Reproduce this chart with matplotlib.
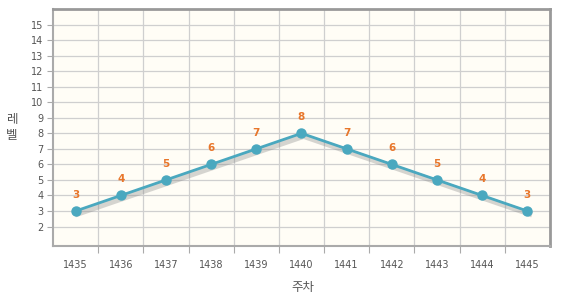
import matplotlib.pyplot as plt
import matplotlib.patheffects as pe

weeks = [1435, 1436, 1437, 1438, 1439, 1440, 1441, 1442, 1443, 1444, 1445]
levels = [3, 4, 5, 6, 7, 8, 7, 6, 5, 4, 3]
y_ticks = list(range(2, 16))

plt.rcParams['font.family'] = ['DejaVu Sans', 'Noto Sans CJK KR']

fig = plt.figure(figsize=(5.82, 2.93), dpi=100)
ax = fig.add_axes([53 / 582, 47 / 293, 497 / 582, 237 / 293])
ax.set_facecolor('#fffdf6')

line_col = '#4aa8bf'
# line with soft shadow, markers drawn on top without shadow
ax.plot(weeks, levels, color=line_col, lw=2, zorder=3,
        path_effects=[pe.SimpleLineShadow(offset=(1.5, -2), shadow_color='#888888', alpha=0.35, linewidth=4),
                      pe.Normal()])
ax.plot(weeks, levels, ls='none', marker='o', ms=6.5, color=line_col, zorder=4)
for x, y in zip(weeks, levels):
    ax.annotate(str(y), (x, y), xytext=(0, 8), textcoords='offset points',
                ha='center', va='bottom', color='#e8762b', fontsize=7.5, fontweight='bold')

ax.set_xlim(1434.5, 1445.5)
ax.set_ylim(0.75, 16)
ax.set_yticks(y_ticks)
ax.set_yticklabels([str(v) for v in y_ticks], fontsize=7, color='#555555')
ax.set_xticks([w + 0.5 for w in weeks[:-1]])
ax.set_xticks(weeks, minor=True)
ax.set_xticklabels([])
ax.set_xticklabels([str(w) for w in weeks], minor=True, fontsize=7, color='#555555')
ax.tick_params(axis='x', which='minor', length=0, pad=10)
ax.tick_params(axis='x', which='major', length=5, color='#aaaaaa')
ax.tick_params(axis='y', length=4, color='#aaaaaa', pad=3)
ax.grid(True, which='major', color='#cfcfcf', lw=0.9)
ax.set_axisbelow(True)

for s in ['top', 'right']:
    ax.spines[s].set_color('#999999')
    ax.spines[s].set_linewidth(2)
for s in ['left', 'bottom']:
    ax.spines[s].set_color('#aaaaaa')
    ax.spines[s].set_linewidth(1.5)

fig.text(12 / 582, 1 - 127 / 293, '레\n벨', fontsize=9, color='#555555',
         ha='center', va='center', linespacing=1.3, family='Noto Sans CJK KR')
fig.text(303 / 582, 1 - 287 / 293, '주차', fontsize=9, color='#555555',
         ha='center', va='center', family='Noto Sans CJK KR')

fig.savefig('out.png', dpi=100)
